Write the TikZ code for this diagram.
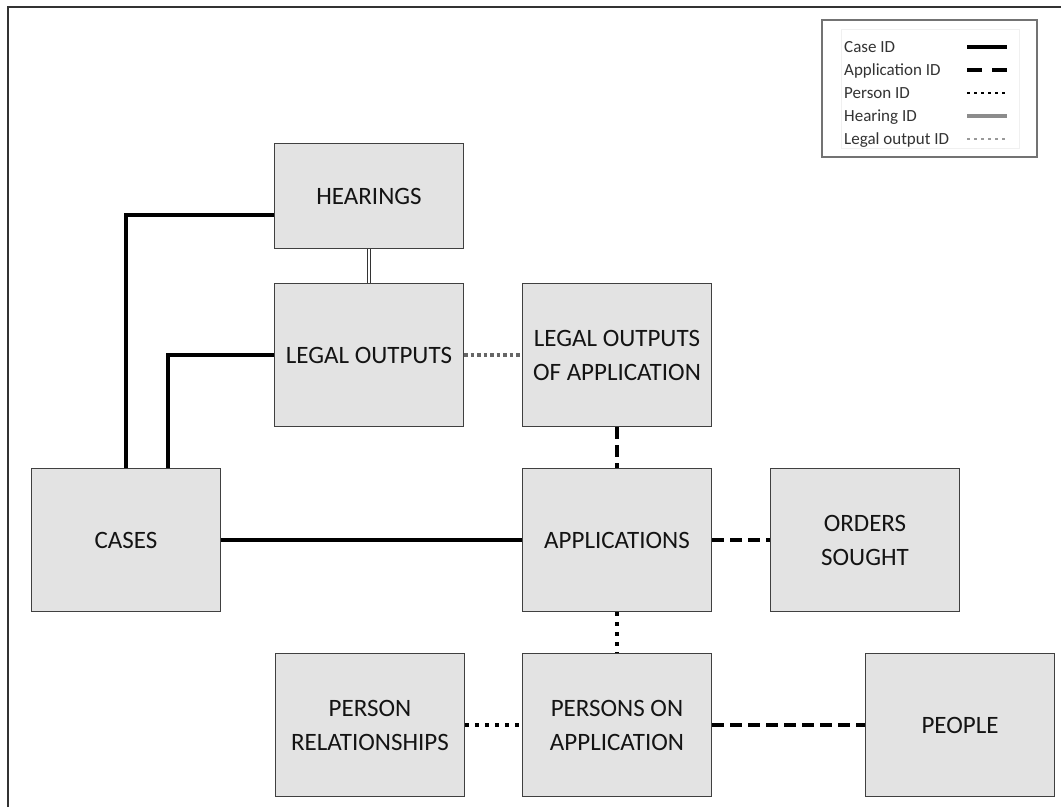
\documentclass[tikz,border=0pt]{standalone}
\usepackage{fontspec}
\setmainfont{Carlito}
\usetikzlibrary{positioning}

\begin{document}
\begin{tikzpicture}[x=1pt, y=-1pt,
		entity/.style  = {draw=black!75, line width=1.4pt, fill=black!11, minimum width=189pt, minimum height=143pt, align=center, inner sep=0pt, text=black!92, font=\fontsize{25}{34}\selectfont},
		caseid/.style  = {draw=black, line width=4pt},
		appid/.style   = {draw=black, line width=4.5pt, dash pattern=on 12pt off 6pt},
		personid/.style = {draw=black, line width=4pt, dash pattern=on 4pt off 6pt},
		hearingid/.style = {draw=black!80, line width=1pt, double=white, double distance=2pt},
		outputid/.style = {draw=black!60, line width=3.5pt, dash pattern=on 3.5pt off 3pt},
		keycase/.style = {draw=black, line width=3.5pt},
		keyapp/.style = {draw=black, line width=3.5pt, dash pattern=on 15pt off 10pt},
		keyperson/.style = {draw=black, line width=2.5pt, dash pattern=on 3pt off 4pt},
		keyhearing/.style = {draw=black!45, line width=3.5pt},
		keyoutput/.style = {draw=black!40, line width=2.5pt, dash pattern=on 3pt off 4pt},
		legendtext/.style = {anchor=base west, inner sep=0pt, text=black!80, font=\fontsize{17}{20}\selectfont}]
		
		\useasboundingbox (0,0) rectangle (1061,807);
		
		% page frame
		\coordinate (fbl) at (8,807);
		\coordinate (ftl) at (8,7);
		\coordinate (ftr) at (1061,7);
		\draw[black!80, line width=1.5pt] (fbl) -- (ftl) -- (ftr);
		
		% the tables
		\node[entity, minimum height=105pt] (hearings) at (369,196) {HEARINGS};
		\node[entity] (outputs) at (369,355) {LEGAL OUTPUTS};
		\node[entity] (appoutputs) at (617,355) {LEGAL OUTPUTS\\OF APPLICATION};
		\node[entity] (cases) at (126,540) {CASES};
		\node[entity] (apps) at (617,540) {APPLICATIONS};
		\node[entity] (orders) at (865,540) {ORDERS\\SOUGHT};
		\node[entity] (relations) at (370,725) {PERSON\\RELATIONSHIPS};
		\node[entity] (persons) at (617,725) {PERSONS ON\\APPLICATION};
		\node[entity] (people) at (960,725) {PEOPLE};
		
		% Case ID links
		\draw[caseid] (cases.north) |- ([yshift=-19pt]hearings.west);
		\draw[caseid] ([xshift=42pt]cases.north) |- (outputs.west);
		\draw[caseid] (cases.east) -- (apps.west);
		
		% Hearing ID and Legal output ID links
		\draw[hearingid] (hearings.south) -- (outputs.north);
		\draw[outputid] (outputs.east) -- (appoutputs.west);
		
		% Application ID links
		\draw[appid] (appoutputs.south) -- (apps.north);
		\draw[appid] (apps.east) -- (orders.west);
		\draw[appid] (persons.east) -- (people.west);
		
		% Person ID links
		\draw[personid] (apps.south) -- (persons.north);
		\draw[personid] (relations.east) -- (persons.west);
		
		% legend
		\node[draw=black!55, line width=1.5pt, fill=white, minimum width=215pt, minimum height=137pt] (legend) at (929.5,88.5) {};
		\draw[black!6] ([shift={(20pt,-10pt)}]legend.north west) rectangle ([shift={(-19pt,10pt)}]legend.south east);
		\foreach \name/\kind [count=\i] in {Case ID/keycase, Application ID/keyapp, Person ID/keyperson, Hearing ID/keyhearing, Legal output ID/keyoutput}
		{
			\node[legendtext] (key\i) at (844, 29.5+23*\i) {\name};
			\coordinate (ks\i) at (967, 24+23*\i);
			\coordinate (ke\i) at (1007, 24+23*\i);
			\draw[\kind] (ks\i) -- (ke\i);
		}
		
	\end{tikzpicture}
\end{document}
